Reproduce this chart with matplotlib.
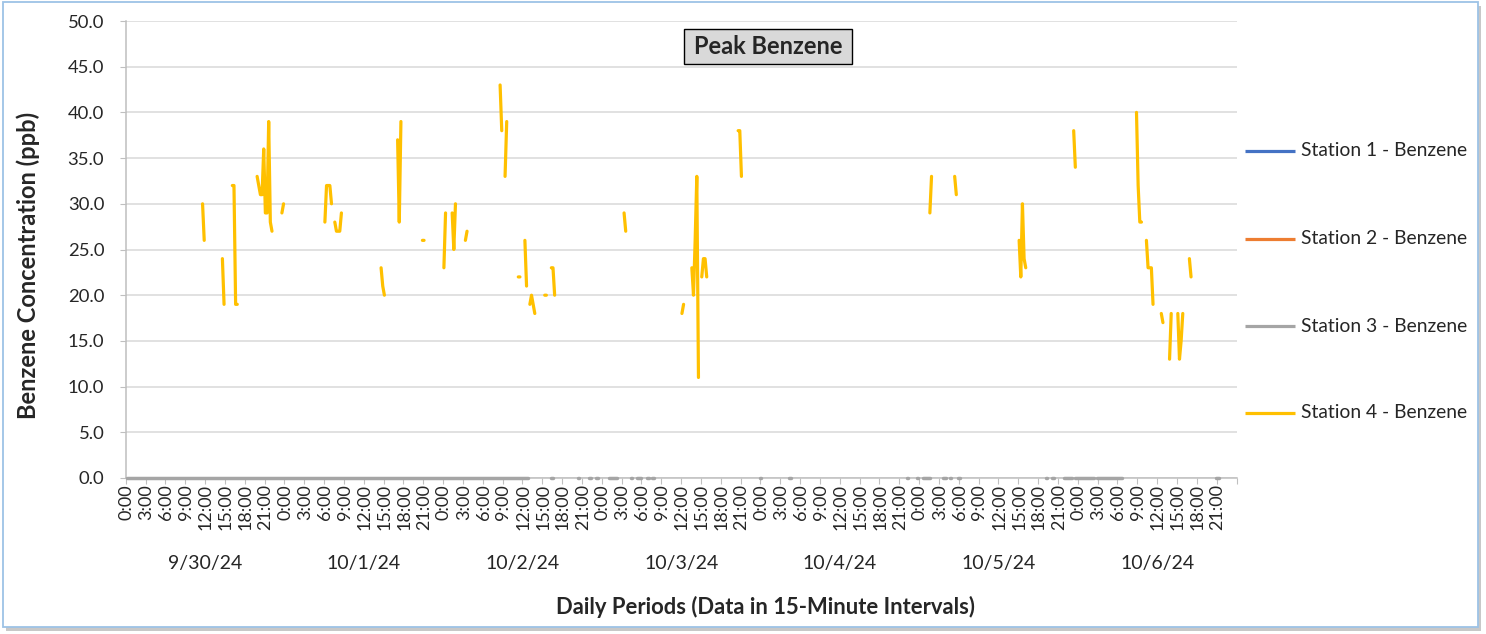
import numpy as np
import matplotlib
matplotlib.use('Agg')
import matplotlib.pyplot as plt
from matplotlib.patches import Rectangle
from matplotlib.lines import Line2D
from matplotlib.transforms import blended_transform_factory

plt.rcParams['font.family'] = ['Lato', 'DejaVu Sans']

# ---------------- data ----------------
n_points = 672  # 7 days x 96 fifteen-minute intervals
days = ['9/30/24', '10/1/24', '10/2/24', '10/3/24', '10/4/24', '10/5/24', '10/6/24']
hour_labels = ['0:00', '3:00', '6:00', '9:00', '12:00', '15:00', '18:00', '21:00']
series_names = ['Station 1 - Benzene', 'Station 2 - Benzene',
                'Station 3 - Benzene', 'Station 4 - Benzene']
series_colors = ['#4472C4', '#ED7D31', '#A5A5A5', '#FFC000']

# Station 4: segments of valid readings (start interval index, values in ppb)
s4_starts = [46, 58, 64, 79, 94, 120, 126, 154, 164, 179, 192, 197, 205, 226,
             229, 237, 241, 244, 253, 257, 301, 336, 342, 348, 370, 486, 501,
             540, 573, 611, 617, 626, 631, 636, 643]
s4_values = [[30, 26], [24, 19], [32, 32, 19, 19],
             [33, 32, 31, 31, 36, 29, 29, 39, 28, 27], [29, 30],
             [28, 32, 32, 32, 30], [28, 27, 27, 27, 29], [23, 21, 20],
             [37, 28, 39], [26, 26], [23, 29], [29, 25, 30], [26, 27],
             [43, 38], [33, 39], [22, 22], [26, 21], [19, 20, 19, 18],
             [20, 20], [23, 23, 20], [29, 27], [18, 19], [23, 20, 26, 33, 11],
             [22, 24, 24, 22], [38, 38, 33], [29, 33], [33, 31],
             [26, 22, 30, 24, 23], [38, 34], [40, 32, 28, 28],
             [26, 23, 23, 23, 19], [18, 17], [13, 18], [18, 13, 15, 18], [24, 22]]

# Station 3: runs of 0.0 ppb readings (start interval index, run length)
s3_value = 0.0
s3_starts = [0, 257, 273, 280, 284, 292, 305, 309, 315, 318, 383, 401, 472,
             478, 482, 494, 498, 503, 556, 560, 567, 574, 587, 659]
s3_lengths = [244, 2, 2, 2, 2, 6, 2, 3, 2, 2, 2, 2, 2, 2, 5, 3, 2, 2, 2, 2,
              6, 12, 16, 3]

# Stations 1 and 2: no readings in the period
# ---------------------------------------

x = np.arange(n_points)
s1 = np.full(n_points, np.nan)
s2 = np.full(n_points, np.nan)
s3 = np.full(n_points, np.nan)
for st, ln in zip(s3_starts, s3_lengths):
    s3[st:st + ln] = s3_value
s4 = np.full(n_points, np.nan)
for st, vals in zip(s4_starts, s4_values):
    s4[st:st + len(vals)] = vals

W, H = 1486, 634
fig = plt.figure(figsize=(W / 100, H / 100), dpi=100)
fig.patch.set_facecolor('white')

TXT = '#262626'

# outer chart frame with shadow
fig.patches.append(Rectangle((6 / W, 1 - 631 / H), 1475 / W, 625 / H,
                             transform=fig.transFigure, facecolor='#C8C8C8',
                             edgecolor='none', zorder=0))
fig.patches.append(Rectangle((3 / W, 1 - 627 / H), 1475 / W, 625 / H,
                             transform=fig.transFigure, facecolor='white',
                             edgecolor='#9DC3E6', linewidth=1.3, zorder=1))

L, R, T, B = 125.7, 1236.5, 21, 478
ax = fig.add_axes([L / W, 1 - B / H, (R - L) / W, (B - T) / H])
ax.set_facecolor('none')
ax.set_zorder(2)

lw = 2.3
for ys, col in zip([s1, s2], series_colors[:2]):
    ax.plot(x, ys, color=col, lw=lw, solid_capstyle='round')
ax.plot(x, s3, color=series_colors[2], lw=lw + 0.2, solid_capstyle='round',
        solid_joinstyle='round', clip_on=False, zorder=4)
ax.plot(x, s4, color=series_colors[3], lw=lw, solid_capstyle='round',
        solid_joinstyle='round', clip_on=False, zorder=5)

ax.set_xlim(-0.5, n_points - 0.5)
ax.set_ylim(0, 50)

yt = np.arange(0, 50.01, 5)
ax.set_yticks(yt)
ax.set_yticklabels([f'{v:.1f}' for v in yt])
ax.yaxis.grid(True, color='#D9D9D9', lw=1.1)
ax.set_axisbelow(True)

ax.set_xticks(np.arange(-0.5, n_points, 12))
ax.set_xticklabels([])
ax.set_xticks(np.arange(0, n_points, 12), minor=True)
ax.set_xticklabels(hour_labels * len(days), minor=True, rotation=90,
                   va='top', ha='center')

for s in ['top', 'right']:
    ax.spines[s].set_visible(False)
for s in ['left', 'bottom']:
    ax.spines[s].set_color('#BFBFBF')
    ax.spines[s].set_linewidth(1.1)

ax.tick_params(axis='y', which='major', length=4, color='#BFBFBF',
               labelsize=13.3, labelcolor=TXT, pad=11.5)
ax.tick_params(axis='x', which='major', length=4.5, color='#BFBFBF')
ax.tick_params(axis='x', which='minor', length=0, labelsize=13,
               labelcolor=TXT, pad=4.5)

# day labels
trans = blended_transform_factory(ax.transData, fig.transFigure)
for d, lab in enumerate(days):
    ax.text(96 * d + 47.5, 1 - 564 / H, lab, transform=trans, ha='center',
            va='center', fontsize=14, color=TXT)

fig.text(765 / W, 1 - 607 / H, 'Daily Periods (Data in 15-Minute Intervals)',
         ha='center', va='center', fontsize=15.8, fontweight='bold', color=TXT)
fig.text(28 / W, 1 - 265 / H, 'Benzene Concentration (ppb)', rotation=90,
         ha='center', va='center', fontsize=17, fontweight='bold', color=TXT)

# title box
fig.patches.append(Rectangle((684 / W, 1 - 64 / H), 168 / W, 35 / H,
                             transform=fig.transFigure, facecolor='#D9D9D9',
                             edgecolor='black', linewidth=1.0, zorder=6))
fig.text(768 / W, 1 - 46 / H, 'Peak Benzene', ha='center', va='center',
         fontsize=17, fontweight='bold', color=TXT, zorder=7)

# legend
for name, col, yp in zip(series_names, series_colors, [151, 239, 326, 413]):
    fig.add_artist(Line2D([1245 / W, 1295 / W], [1 - yp / H, 1 - yp / H],
                          transform=fig.transFigure, color=col, lw=lw,
                          solid_capstyle='butt', zorder=6))
    fig.text(1301 / W, 1 - yp / H, name, ha='left', va='center',
             fontsize=13.9, color=TXT, zorder=6)

fig.savefig('out.png', dpi=100)
